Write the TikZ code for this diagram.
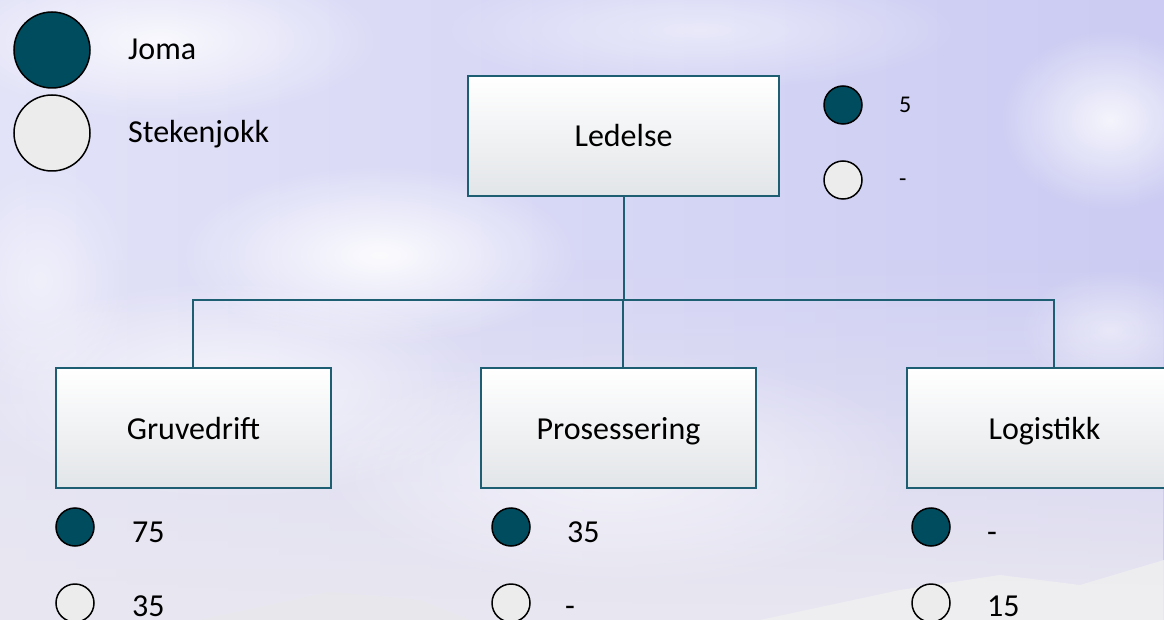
\documentclass[tikz,border=0pt]{standalone}
\usepackage{fontspec}
\setmainfont{Carlito}
\usetikzlibrary{calc,fadings}
\tikzfading[name=softcloud, inner color=transparent!0, outer color=transparent!100]
\definecolor{teal}{HTML}{004C5F}
\definecolor{lightc}{HTML}{ECECEC}
\definecolor{edge}{HTML}{1E5E72}
\definecolor{skyA}{HTML}{E2E2F8}
\definecolor{skyB}{HTML}{CBCBF3}
\definecolor{skyC}{HTML}{E9E7F0}
\definecolor{boxbot}{HTML}{E2E5E8}
\tikzset{
  orgbox/.style={draw=edge, line width=1.8pt, rectangle, minimum height=120pt,
    top color=white, middle color=white, bottom color=boxbot, inner sep=0pt,
    text height=22pt, text depth=0pt,
    font=\fontsize{32}{38}\selectfont, text=black},
  darkdot/.style={circle, draw=black, line width=1.5pt, fill=teal, inner sep=0pt},
  lightdot/.style={circle, draw=black, line width=1.5pt, fill=lightc, inner sep=0pt},
  bigtxt/.style={anchor=base west, inner sep=0pt, font=\fontsize{32}{38}\selectfont, text=black},
  smalltxt/.style={anchor=base west, inner sep=0pt, font=\fontsize{24}{28}\selectfont, text=black},
  conn/.style={draw=edge, line width=2pt},
  cloud/.style={fill=white, path fading=softcloud, draw=none}
}
\begin{document}
\begin{tikzpicture}[x=1pt,y=-1pt]
\useasboundingbox (0,0) rectangle (1164,620);
\clip (0,0) rectangle (1164,620);
% background sky
\shade[left color=skyA, right color=skyB] (0,0) rectangle (1164,620);
\fill[skyC, path fading=north] (0,260) rectangle (1164,620);
% clouds
\fill[cloud, opacity=0.9] (380,255) ellipse (200 and 90);
\fill[cloud, opacity=0.7] (230,390) ellipse (260 and 110);
\fill[cloud, opacity=0.6] (620,470) ellipse (300 and 120);
\fill[cloud, opacity=0.8] (1110,120) ellipse (110 and 90);
\fill[cloud, opacity=0.8] (160,40) ellipse (220 and 80);
\fill[cloud, opacity=0.5] (700,30) ellipse (260 and 60);
\fill[cloud, opacity=0.5] (1110,330) ellipse (90 and 60);
\fill[cloud, opacity=0.5] (40,280) ellipse (90 and 120);
% mountains
\fill[white!88!gray, opacity=0.8] (760,620) -- (900,590) -- (1000,575) -- (1080,585) -- (1164,560) -- (1164,620) -- cycle;
\fill[white!82!gray, opacity=0.5] (200,620) -- (330,592) -- (420,600) -- (470,620) -- cycle;

% legend
\node[darkdot, minimum size=76pt] (legJ) at (52,50) {};
\node[lightdot, minimum size=76pt] (legS) at (52,133) {};
\node[bigtxt] (tJ) at (128,60) {Joma};
\node[bigtxt] (tS) at (128,143) {Stekenjokk};

% boxes
\node[orgbox, minimum width=311pt] (led) at (623.5,136) {Ledelse};
\node[orgbox, minimum width=275pt] (gru) at (193.5,428) {Gruvedrift};
\node[orgbox, minimum width=275pt] (pro) at (618.5,428) {Prosessering};
\node[orgbox, minimum width=275pt] (log) at (1044.5,428) {Logistikk};

% connectors
\coordinate (bus) at (623,300);
\draw[conn] (led.south) -- (led.south |- bus);
\draw[conn] ([xshift=-0.5pt]gru.north) |- ([xshift=9pt]log.north |- bus) -- ([xshift=9pt]log.north);
\draw[conn] ([xshift=4.5pt]pro.north) -- ([xshift=4.5pt]pro.north |- bus);

% Ledelse counts
\node[darkdot, minimum size=38pt] (ledJ) at (843,105) {};
\node[lightdot, minimum size=38pt] (ledS) at (843,180) {};
\node[smalltxt] (ledJt) at (899,113) {5};
\node[smalltxt] (ledSt) at (899,187) {-};

% Gruvedrift counts
\node[darkdot, minimum size=38pt] (gruJ) at (75,527) {};
\node[lightdot, minimum size=38pt] (gruS) at (75,603) {};
\node[bigtxt] (gruJt) at (132,542) {75};
\node[bigtxt] (gruSt) at (132,616) {35};

% Prosessering counts
\node[darkdot, minimum size=38pt] (proJ) at (511,527) {};
\node[lightdot, minimum size=38pt] (proS) at (511,603) {};
\node[bigtxt] (proJt) at (567,542) {35};
\node[bigtxt] (proSt) at (565,616) {-};

% Logistikk counts
\node[darkdot, minimum size=38pt] (logJ) at (931,527) {};
\node[lightdot, minimum size=38pt] (logS) at (931,603) {};
\node[bigtxt] (logJt) at (987,542) {-};
\node[bigtxt] (logSt) at (987,616) {15};
\end{tikzpicture}
\end{document}
